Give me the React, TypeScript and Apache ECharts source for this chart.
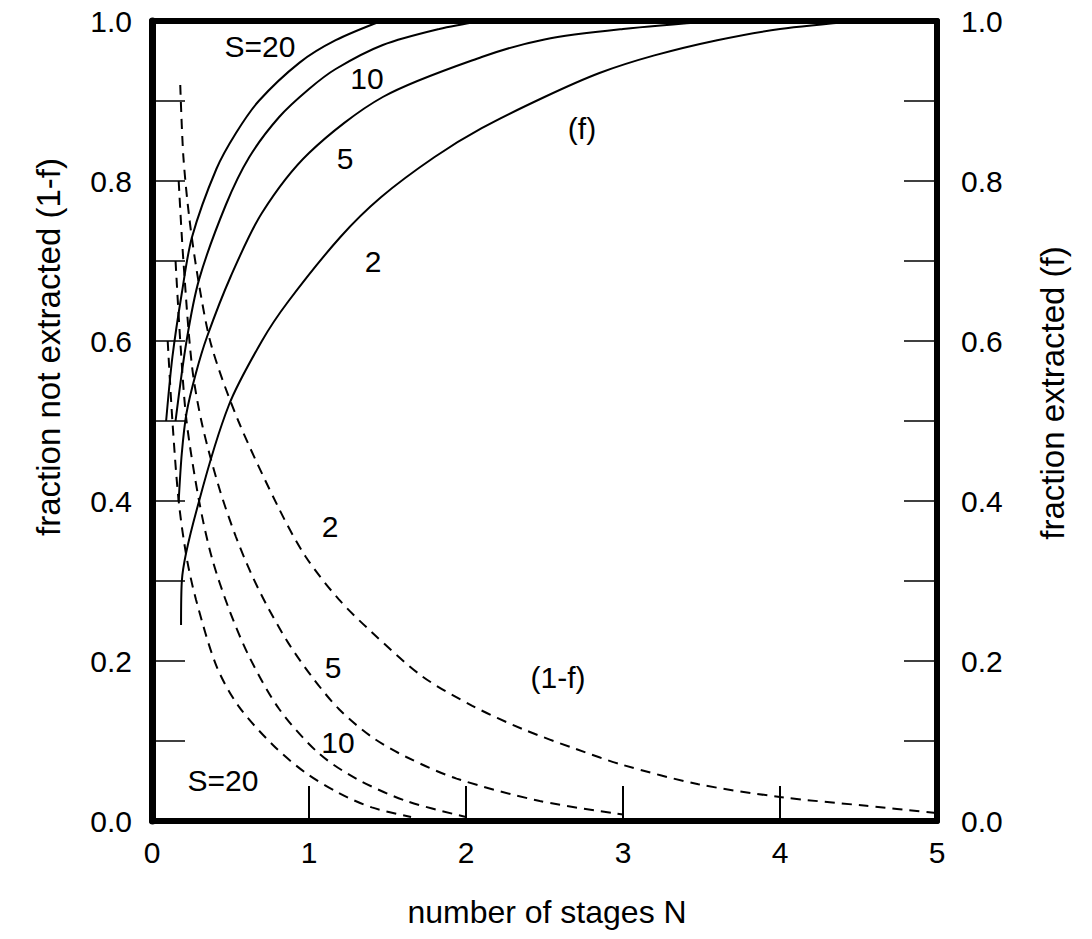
import React, { useEffect, useRef } from "react";
import * as echarts from "echarts";

// number of stages N (x), fraction (y)
const xMin = 0;
const xMax = 5;
const yMin = 0;
const yMax = 1;

// solid curves: fraction extracted (f)
const solidS20 = [[0.09, 0.5], [0.13, 0.58], [0.19, 0.66], [0.255, 0.73], [0.41, 0.815], [0.535, 0.86], [0.68, 0.9], [0.94, 0.948], [1.17, 0.976], [1.46, 1.0]];
const solidS10 = [[0.15, 0.5], [0.22, 0.6], [0.3, 0.677], [0.47, 0.77], [0.62, 0.83], [0.81, 0.88], [1.0, 0.915], [1.17, 0.94], [1.47, 0.97], [1.83, 0.99], [2.1, 1.0]];
const solidS5 = [[0.17, 0.4], [0.19, 0.46], [0.22, 0.51], [0.28, 0.56], [0.35, 0.605], [0.5, 0.68], [0.7, 0.76], [1.0, 0.835], [1.47, 0.905], [2.1, 0.955], [2.5, 0.977], [3.0, 0.99], [3.6, 1.0]];
const solidS2 = [[0.185, 0.245], [0.19, 0.3], [0.3, 0.4], [0.49, 0.52], [0.7, 0.6], [0.87, 0.65], [1.2, 0.73], [1.46, 0.78], [1.8, 0.83], [2.1, 0.866], [2.5, 0.905], [2.85, 0.935], [3.2, 0.957], [3.6, 0.976], [4.0, 0.99], [4.5, 1.0]];

// dashed curves: fraction not extracted (1-f)
const dashedS20 = [[0.1, 0.6], [0.13, 0.5], [0.17, 0.4], [0.22, 0.33], [0.28, 0.277], [0.41, 0.194], [0.55, 0.144], [0.77, 0.095], [0.98, 0.06], [1.19, 0.035], [1.4, 0.017], [1.65, 0.005]];
const dashedS10 = [[0.15, 0.7], [0.18, 0.6], [0.22, 0.5], [0.3, 0.4], [0.38, 0.33], [0.49, 0.265], [0.62, 0.205], [0.81, 0.14], [1.06, 0.085], [1.3, 0.053], [1.62, 0.025], [2.0, 0.005]];
const dashedS5 = [[0.17, 0.8], [0.2, 0.7], [0.255, 0.568], [0.32, 0.495], [0.43, 0.415], [0.535, 0.355], [0.63, 0.31], [0.73, 0.27], [0.87, 0.222], [1.02, 0.18], [1.19, 0.14], [1.4, 0.105], [1.62, 0.08], [1.94, 0.053], [2.47, 0.025], [3.0, 0.008]];
const dashedS2 = [[0.18, 0.92], [0.2, 0.83], [0.24, 0.75], [0.3, 0.67], [0.38, 0.593], [0.55, 0.5], [0.81, 0.39], [0.98, 0.33], [1.19, 0.277], [1.4, 0.236], [1.72, 0.181], [2.04, 0.144], [2.36, 0.115], [2.7, 0.09], [3.0, 0.07], [3.48, 0.046], [4.0, 0.03], [4.55, 0.019], [5.0, 0.01]];

const xTitle = "number of stages N";
const yLeftTitle = "fraction not extracted (1-f)";
const yRightTitle = "fraction extracted (f)";

const FONT = '"Liberation Sans", Arial, Helvetica, sans-serif';

export default function App() {
  const ref = useRef<HTMLDivElement>(null);
  useEffect(() => {
    if (!ref.current) return;
    const chart = echarts.init(ref.current, null, { renderer: "svg" });
    const axisLabel = { color: "#000", fontSize: 30, fontFamily: FONT };
    const solid = (data: number[][]) => ({
      type: "line", data, smooth: 0.3, symbol: "none", showSymbol: false,
      lineStyle: { color: "#000", width: 2 }, silent: true, z: 3,
    });
    const dashed = (data: number[][]) => ({
      type: "line", data, smooth: 0.3, symbol: "none", showSymbol: false,
      lineStyle: { color: "#000", width: 2, type: [10, 7] }, silent: true, z: 3,
    });
    const label = (text: string, x: number, y: number) => ({
      type: "text", x, y, z: 10,
      style: { text, fill: "#000", fontSize: 30, fontFamily: FONT, textAlign: "center", textVerticalAlign: "middle" },
    });
    chart.setOption({
      animation: false,
      backgroundColor: "#fff",
      grid: { left: 152, right: 155, top: 21, bottom: 118 },
      xAxis: [
        {
          type: "value", min: xMin, max: xMax, interval: 1, position: "bottom",
          axisLine: { show: true, onZero: false, lineStyle: { color: "#000", width: 6 } },
          axisTick: { show: true, inside: true, length: 35, lineStyle: { color: "#000", width: 2 } },
          axisLabel: { ...axisLabel, margin: 16 },
          splitLine: { show: false },
        },
        {
          type: "value", min: xMin, max: xMax, interval: 1, position: "top",
          axisLine: { show: true, onZero: false, lineStyle: { color: "#000", width: 6 } },
          axisTick: { show: false }, axisLabel: { show: false }, splitLine: { show: false },
        },
      ],
      yAxis: [
        {
          type: "value", min: yMin, max: yMax, interval: 0.2, position: "left",
          axisLine: { show: true, onZero: false, lineStyle: { color: "#000", width: 7 } },
          axisTick: { show: true, inside: true, length: 33, lineStyle: { color: "#000", width: 1.5 } },
          minorTick: { show: true, splitNumber: 2, length: 33, lineStyle: { color: "#000", width: 1.5 } },
          axisLabel: { ...axisLabel, margin: 20, formatter: (v: number) => v.toFixed(1) },
          splitLine: { show: false },
        },
        {
          type: "value", min: yMin, max: yMax, interval: 0.2, position: "right",
          axisLine: { show: true, onZero: false, lineStyle: { color: "#000", width: 6 } },
          axisTick: { show: true, inside: true, length: 33, lineStyle: { color: "#000", width: 1.5 } },
          minorTick: { show: true, splitNumber: 2, length: 33, lineStyle: { color: "#000", width: 1.5 } },
          axisLabel: { ...axisLabel, margin: 24, formatter: (v: number) => v.toFixed(1) },
          splitLine: { show: false },
        },
      ],
      series: [
        solid(solidS20), solid(solidS10), solid(solidS5), solid(solidS2),
        dashed(dashedS20), dashed(dashedS10), dashed(dashedS5), dashed(dashedS2),
      ],
      graphic: [
        label("S=20", 260, 46),
        label("10", 367, 78),
        label("5", 345, 158),
        label("2", 373, 261),
        label("(f)", 582, 128),
        label("2", 330, 526),
        label("5", 333, 667),
        label("10", 338, 742),
        label("S=20", 223, 780),
        label("(1-f)", 558, 677),
        {
          type: "text", x: 547, y: 912,
          style: { text: xTitle, fill: "#000", fontSize: 32, fontFamily: FONT, textAlign: "center", textVerticalAlign: "middle" },
        },
        {
          type: "text", x: 48, y: 347, rotation: Math.PI / 2,
          style: { text: yLeftTitle, fill: "#000", fontSize: 33, fontFamily: FONT, textAlign: "center", textVerticalAlign: "middle" },
        },
        {
          type: "text", x: 1052, y: 393, rotation: Math.PI / 2,
          style: { text: yRightTitle, fill: "#000", fontSize: 33, fontFamily: FONT, textAlign: "center", textVerticalAlign: "middle" },
        },
      ],
    });
    return () => chart.dispose();
  }, []);
  return (
    <div
      ref={ref}
      style={{ position: "fixed", left: 0, top: 0, width: 1092, height: 939, background: "#fff" }}
    />
  );
}
